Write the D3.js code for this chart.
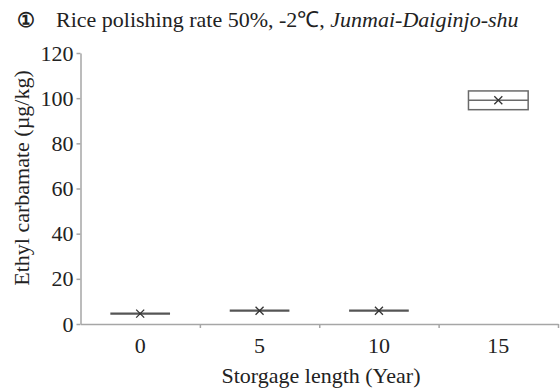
<!DOCTYPE html>
<html>
<head>
<meta charset="utf-8">
<script src="https://cdn.jsdelivr.net/npm/d3@7"></script>
<style>
  body { margin: 0; background: #fff; }
  svg { display: block; }
</style>
</head>
<body>
<div id="chart"></div>
<script>
// storage length categories (years)
const years = ["0", "5", "10", "15"];
// box stats per category (ug/kg)
const minVals = [4.6, 5.9, 5.9, 94.9];
const q1Vals = [4.6, 5.9, 5.9, 94.9];
const medianVals = [4.6, 5.9, 5.9, 99.1];
const q3Vals = [4.6, 5.9, 5.9, 103.2];
const maxVals = [4.6, 5.9, 5.9, 103.2];
const meanVals = [4.6, 5.9, 5.9, 99.1];
const yTicks = [0, 20, 40, 60, 80, 100, 120];

const width = 560, height = 390;
const plotLeft = 80.5, plotRight = 558, plotTop = 53, plotBottom = 324;
const serifFont = "Liberation Serif";
const fs = 22;

const svg = d3.select("#chart").append("svg")
  .attr("width", width)
  .attr("height", height)
  .attr("font-family", serifFont);

const data = years.map((y, i) => ({
  year: y, min: minVals[i], q1: q1Vals[i], med: medianVals[i],
  q3: q3Vals[i], max: maxVals[i], mean: meanVals[i]
}));

const x = d3.scaleBand().domain(years).range([plotLeft, plotRight]).padding(0);
const xEdge = d3.scaleLinear().domain([0, years.length]).range([plotLeft, plotRight]);
const y = d3.scaleLinear().domain([0, 120]).range([plotBottom, plotTop]);

const axisColor = "#a6a6a6";

// Y axis
const gy = svg.append("g")
  .attr("transform", `translate(${plotLeft},0)`)
  .call(d3.axisLeft(y).tickValues(yTicks).tickSize(4).tickPadding(3).tickSizeOuter(0))
  .attr("font-family", serifFont).attr("font-size", fs);
gy.select(".domain").attr("stroke", axisColor).attr("stroke-width", 1.5);
gy.selectAll(".tick line").attr("stroke", axisColor).attr("stroke-width", 1.5);
gy.selectAll(".tick text").attr("fill", "#222");

// X axis: tick marks between categories
const gxe = svg.append("g")
  .attr("transform", `translate(0,${plotBottom})`)
  .call(d3.axisBottom(xEdge).tickValues([1, 2, 3, 4]).tickFormat("").tickSize(4).tickSizeOuter(0));
gxe.select(".domain").attr("stroke", axisColor).attr("stroke-width", 1.5);
gxe.selectAll(".tick line").attr("stroke", axisColor).attr("stroke-width", 1.5);

// X axis labels at category centres
const gx = svg.append("g")
  .attr("transform", `translate(0,${plotBottom})`)
  .call(d3.axisBottom(x).tickSize(0).tickPadding(13))
  .attr("font-family", serifFont).attr("font-size", fs);
gx.select(".domain").remove();
gx.selectAll(".tick text").attr("fill", "#222");

// boxes
const boxW = x.bandwidth() * 0.5;
const boxes = svg.append("g").selectAll("g")
  .data(data).enter().append("g")
  .attr("transform", d => `translate(${x(d.year) + x.bandwidth() / 2},0)`);

boxes.filter(d => d.q3 - d.q1 > 0.5)
  .append("rect")
  .attr("x", -boxW / 2)
  .attr("width", boxW)
  .attr("y", d => y(d.q3))
  .attr("height", d => y(d.q1) - y(d.q3))
  .attr("fill", "none")
  .attr("stroke", "#6a6a6a")
  .attr("stroke-width", 1.5);

boxes.append("line")
  .attr("x1", -boxW / 2).attr("x2", boxW / 2)
  .attr("y1", d => y(d.med)).attr("y2", d => y(d.med))
  .attr("stroke", d => d.q3 - d.q1 > 0.5 ? "#6a6a6a" : "#555")
  .attr("stroke-width", d => d.q3 - d.q1 > 0.5 ? 1.5 : 2.2);

// mean markers
boxes.append("path")
  .attr("d", d => {
    const cy = y(d.mean), r = 4;
    return `M${-r},${cy - r}L${r},${cy + r}M${-r},${cy + r}L${r},${cy - r}`;
  })
  .attr("stroke", "#333")
  .attr("stroke-width", 1.3)
  .attr("fill", "none");

// title
const title = svg.append("text")
  .attr("x", 17).attr("y", 27)
  .attr("font-family", serifFont)
  .attr("font-size", fs).attr("fill", "#222");
title.append("tspan").attr("font-weight", "bold").attr("font-size", 20).text("\u2460");
title.append("tspan").attr("x", 56).text("Rice polishing rate 50%, -2\u2103, ");
title.append("tspan").attr("font-style", "italic").text("Junmai-Daiginjo-shu");

// axis titles
svg.append("text")
  .attr("transform", `translate(29,178) rotate(-90)`)
  .attr("text-anchor", "middle")
  .attr("font-family", serifFont)
  .attr("font-size", fs).attr("fill", "#222")
  .text("Ethyl carbamate (\u00b5g/kg)");

svg.append("text")
  .attr("x", 321).attr("y", 383)
  .attr("text-anchor", "middle")
  .attr("font-family", serifFont)
  .attr("font-size", fs).attr("fill", "#222")
  .text("Storgage length (Year)");
</script>
</body>
</html>
